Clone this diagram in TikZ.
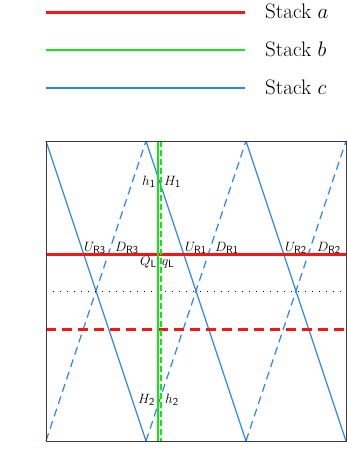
\RequirePackage{fix-cm}
\documentclass[tikz,border=0pt]{standalone}
\usepackage{fontspec}
\DeclareMathSizes{13.5}{13.5}{10.5}{8}
\DeclareMathSizes{21}{21}{15}{11}
\definecolor{sred}{RGB}{250,20,20}
\definecolor{sgreen}{RGB}{20,230,20}
\definecolor{sblue}{RGB}{40,130,255}
\definecolor{sframe}{RGB}{60,60,60}
\tikzset{
  redsolid/.style={draw=sred, line width=3pt},
  reddash/.style={draw=sred, line width=3pt, dash pattern=on 10pt off 6pt},
  greensolid/.style={draw=sgreen, line width=2.2pt},
  greendash/.style={draw=sgreen, line width=2pt, dash pattern=on 6pt off 3pt},
  bluesolid/.style={draw=sblue, line width=1.2pt},
  bluedash/.style={draw=sblue, line width=1.2pt, dash pattern=on 8pt off 5pt},
  blackdot/.style={draw=black, line width=0.9pt, dash pattern=on 0.9pt off 6.1pt},
  legtext/.style={anchor=base west, inner sep=0pt, font=\fontsize{21}{24}\selectfont},
  lab/.style={anchor=base west, inner sep=0pt, font=\fontsize{13.5}{15}\selectfont},
}
\begin{document}
\begin{tikzpicture}[x=1pt,y=-1pt]
\useasboundingbox (0,0) rectangle (347,476);
% legend
\coordinate (la1) at (46,12.7); \coordinate (la2) at (245,12.7);
\coordinate (lb1) at (46,50.3); \coordinate (lb2) at (245,50.3);
\coordinate (lc1) at (46,88);   \coordinate (lc2) at (245,88);
\draw[draw=sred, line width=3pt] (la1) -- (la2);
\draw[draw=sgreen, line width=2pt] (lb1) -- (lb2);
\draw[draw=sblue, line width=1.5pt] (lc1) -- (lc2);
\node[legtext] (ta) at (265,19) {Stack $a$};
\node[legtext] (tb) at (265,56.5) {Stack $b$};
\node[legtext] (tc) at (265,94.5) {Stack $c$};
% frame corners
\coordinate (tl) at (46,141); \coordinate (br) at (346,441);
% blue zig-zag
\foreach \x in {46,146,246}{
  \draw[bluesolid] (\x,141) -- (\x+100,441);
  \draw[bluedash] (\x,441) -- (\x+100,141);
}
% red lines
\coordinate (rs1) at (46,254); \coordinate (rs2) at (346,254);
\coordinate (rd1) at (46,329); \coordinate (rd2) at (346,329);
\draw[redsolid] (rs1) -- (rs2);
\draw[reddash] (rd1) -- (rd2);
% dotted
\coordinate (dt1) at (46,291); \coordinate (dt2) at (346,291);
\draw[blackdot] (dt1) -- (dt2);
% green
\coordinate (gs1) at (158.3,141); \coordinate (gs2) at (158.3,441);
\coordinate (gd1) at (160.9,141); \coordinate (gd2) at (160.9,441);
\draw[greensolid] (gs1) -- (gs2);
\draw[greendash] (gd1) -- (gd2);
% frame
\draw[sframe, line width=1pt] (tl) rectangle (br);
% labels
\node[lab] (h1) at (142,185) {$h_{\mathsf{1}}$};
\node[lab] (H1) at (164,185) {$H_{\mathsf{1}}$};
\node[lab] (UR3) at (84,251) {$U_{\mathsf{R3}}$};
\node[lab] (DR3) at (115,251) {$D_{\mathsf{R3}}$};
\node[lab] (UR1) at (185,251) {$U_{\mathsf{R1}}$};
\node[lab] (DR1) at (215,251) {$D_{\mathsf{R1}}$};
\node[lab] (UR2) at (285,251) {$U_{\mathsf{R2}}$};
\node[lab] (DR2) at (317,251) {$D_{\mathsf{R2}}$};
\node[lab] (QL) at (140,265) {$Q_{\mathsf{L}}$};
\node[lab] (qL) at (162,265) {$q_{\mathsf{L}}$};
\node[lab] (H2) at (138,403) {$H_{\mathsf{2}}$};
\node[lab] (h2) at (165,403) {$h_{\mathsf{2}}$};
\end{tikzpicture}
\end{document}
